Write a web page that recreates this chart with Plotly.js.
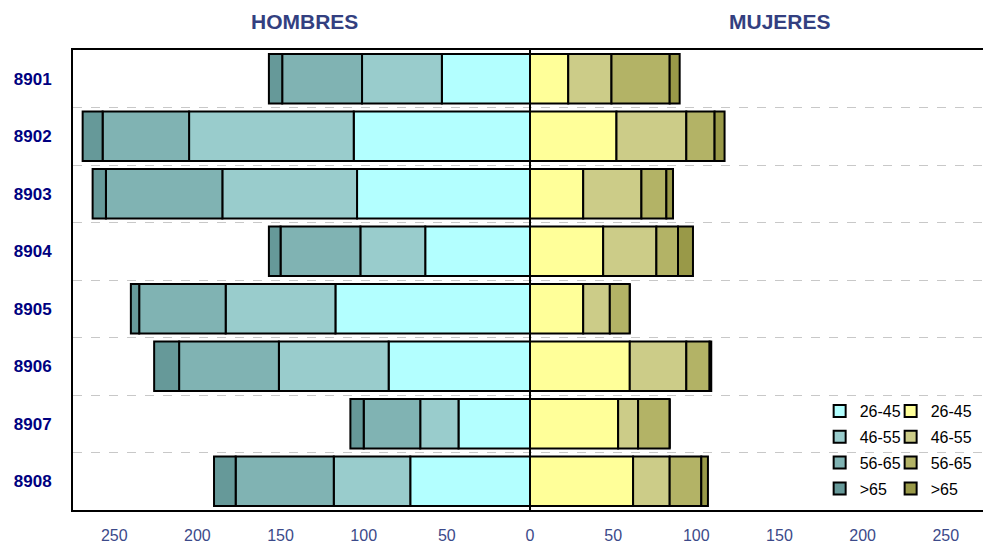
<!DOCTYPE html>
<html>
<head>
<meta charset="utf-8">
<script src="https://cdn.plot.ly/plotly-3.0.1.min.js"></script>
<style>html,body{margin:0;padding:0;background:#fff;}#chart{width:983px;height:544px;}</style>
</head>
<body>
<div id="chart"></div>
<script>
// Categories (top to bottom)
const categories = ['8901','8902','8903','8904','8905','8906','8907','8908'];
const ageGroups = ['26-45','46-55','56-65','>65'];

// HOMBRES (men) by age group
const men_26_45 = [53, 106, 104, 63, 117, 85, 43, 72];
const men_46_55 = [48, 99, 81, 39, 66, 66, 23, 46];
const men_56_65 = [48, 52, 70, 48, 52, 60, 34, 59];
const men_65   = [8, 12, 8, 7, 5, 15, 8, 13];

// MUJERES (women) by age group
const women_26_45 = [23, 52, 32, 44, 32, 60, 53, 62];
const women_46_55 = [26, 42, 35, 32, 16, 34, 12, 22];
const women_56_65 = [35, 17, 15, 13, 12, 14, 19, 19];
const women_65   = [6, 6, 4, 9, 0, 1, 0, 4];

// Axis tick labels
const tickValues = [-250,-200,-150,-100,-50,0,50,100,150,200,250];
const tickLabels = ['250','200','150','100','50','0','50','100','150','200','250'];

const menColors = ['#B3FFFF','#99CCCC','#80B3B3','#669999'];
const womenColors = ['#FFFF99','#CCCC88','#B3B366','#999948'];

const menSeries = [men_26_45, men_46_55, men_56_65, men_65];
const womenSeries = [women_26_45, women_46_55, women_56_65, women_65];

const traces = [];
menSeries.forEach((vals, i) => {
  traces.push({
    type: 'bar', orientation: 'h',
    y: categories, x: vals.map(v => -v),
    name: ageGroups[i], legend: 'legend', legendgroup: 'm' + i,
    marker: {color: menColors[i], line: {color: '#000', width: 2}},
    width: 0.86, hoverinfo: 'skip'
  });
});
womenSeries.forEach((vals, i) => {
  traces.push({
    type: 'bar', orientation: 'h',
    y: categories, x: vals,
    name: ageGroups[i], legend: 'legend2', legendgroup: 'w' + i,
    marker: {color: womenColors[i], line: {color: '#000', width: 2}},
    width: 0.86, hoverinfo: 'skip'
  });
});

const legendCommon = {
  orientation: 'v', traceorder: 'grouped', tracegroupgap: 2,
  font: {family: 'Liberation Sans, Arial, sans-serif', size: 16, color: '#000'},
  bgcolor: 'rgba(0,0,0,0)', yanchor: 'top', y: 0.252, xanchor: 'left',
  itemwidth: 30
};

const layout = {
  width: 983, height: 544,
  margin: {l: 73, r: 0, t: 50, b: 34},
  paper_bgcolor: '#fff', plot_bgcolor: '#fff',
  barmode: 'relative',
  bargap: 0.14,
  showlegend: true,
  legend: Object.assign({}, legendCommon, {x: 0.8205}),
  legend2: Object.assign({}, legendCommon, {x: 0.8985}),
  xaxis: {
    range: [-274.8, 272.4],
    tickvals: tickValues, ticktext: tickLabels,
    tickfont: {family: 'Liberation Sans, Arial, sans-serif', size: 16, color: '#3C4A8A'},
    ticks: '', ticklabelstandoff: 10,
    showgrid: false,
    zeroline: true, zerolinecolor: '#000', zerolinewidth: 2.5,
    showline: true, linecolor: '#000', linewidth: 2, mirror: true,
    fixedrange: true
  },
  yaxis: {
    type: 'category',
    categoryorder: 'array', categoryarray: categories,
    autorange: 'reversed',
    tickson: 'boundaries',
    showgrid: true, gridcolor: '#C8C8C8', griddash: 'dash', gridwidth: 1,
    ticks: '', ticklabelstandoff: 16,
    tickfont: {family: 'Liberation Sans, Arial, sans-serif', size: 17, color: '#000080', weight: 'bold'},
    showline: true, linecolor: '#000', linewidth: 2,
    zeroline: false, fixedrange: true
  },
  annotations: [
    {text: '<b>HOMBRES</b>', xref: 'paper', yref: 'paper', x: (304.5 - 73) / 910, y: 1, yshift: 29,
     showarrow: false, xanchor: 'center', yanchor: 'middle',
     font: {family: 'Liberation Sans, Arial, sans-serif', size: 21, color: '#333F80'}},
    {text: '<b>MUJERES</b>', xref: 'paper', yref: 'paper', x: (780 - 73) / 910, y: 1, yshift: 29,
     showarrow: false, xanchor: 'center', yanchor: 'middle',
     font: {family: 'Liberation Sans, Arial, sans-serif', size: 21, color: '#333F80'}}
  ]
};

Plotly.newPlot('chart', traces, layout, {displayModeBar: false, staticPlot: true});
</script>
</body>
</html>
